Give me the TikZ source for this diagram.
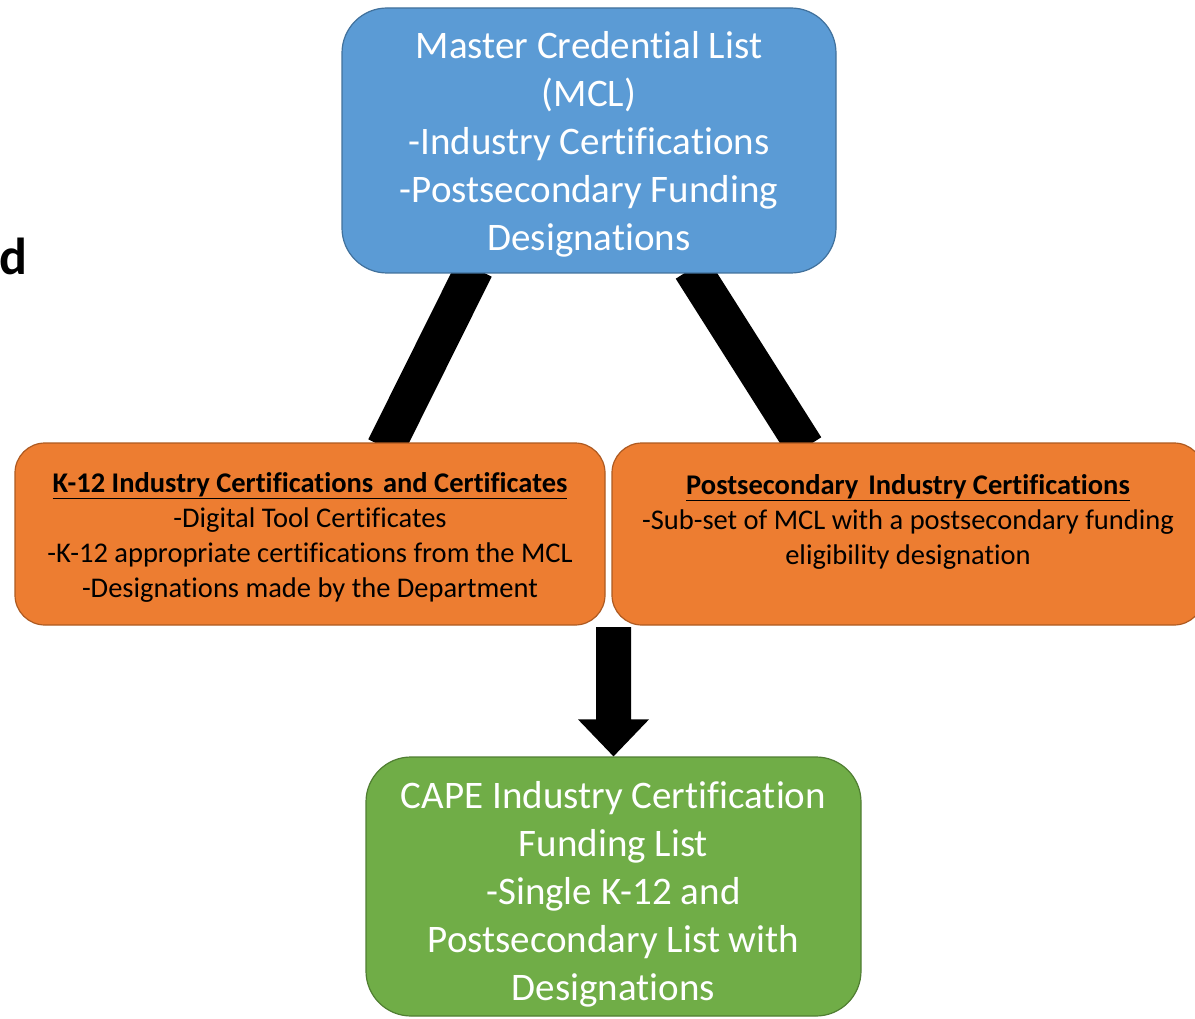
\documentclass[tikz,border=0pt]{standalone}
\usepackage{fontspec}
\setmainfont[Ligatures=NoCommon]{Carlito}
\usetikzlibrary{calc,backgrounds}
\definecolor{bluefill}{HTML}{5B9BD5}
\definecolor{blueline}{HTML}{41719C}
\definecolor{orangefill}{HTML}{ED7D31}
\definecolor{orangeline}{HTML}{AE5A21}
\definecolor{greenfill}{HTML}{70AD47}
\definecolor{greenline}{HTML}{507E32}
\begin{document}
\begin{tikzpicture}[x=1pt,y=-1pt,
  box/.style={rounded corners=#1, line width=1.2pt, inner sep=0pt, align=center},
  bigtext/.style={text=white, font=\fontsize{39}{48}\selectfont},
  smalltext/.style={text=black, font=\fontsize{28.5}{35}\selectfont},
  bar/.style={line width=38pt, black, shorten <=-6pt, shorten >=-6pt}]
\useasboundingbox (0,0) rectangle (1195,1019);

\node[anchor=base east, inner sep=0pt, font=\fontsize{52}{60}\selectfont\bfseries] (cut) at (28,275) {d};

\node[box=45pt, fill=bluefill, draw=blueline, bigtext, minimum width=494pt, minimum height=265pt] (mcl) at (589,140.5)
  {\rule{0pt}{34pt}Master Credential List\\(MCL)\\-Industry Certifications\\-Postsecondary Funding\\Designations};

\node[box=30pt, fill=orangefill, draw=orangeline, smalltext, minimum width=590pt, minimum height=182pt] (k12) at (310,534)
  {\rule{0pt}{26.5pt}\underline{\textbf{K-12 Industry Certifications\hspace{0.12em} and Certificates}}\\-Digital Tool Certificates\\-K-12 appropriate certifications from the MCL\\-Designations made by the Department};

\node[box=30pt, fill=orangefill, draw=orangeline, smalltext, minimum width=592pt, minimum height=182pt] (post) at (908,534)
  {\rule{0pt}{26.5pt}\underline{\textbf{Postsecondary\hspace{0.12em} Industry Certifications}}\\-Sub-set of MCL with a postsecondary funding\\eligibility designation\\\mbox{}};

\node[box=45pt, fill=greenfill, draw=greenline, bigtext, minimum width=495pt, minimum height=259pt] (cape) at (613.5,886.5)
  {\rule{0pt}{42pt}CAPE Industry Certification\\Funding List\\-Single K-12 and\\Postsecondary List with\\Designations};

\begin{scope}[on background layer]
  \draw[bar] ($(mcl.south)+(-117,0)$) -- ($(k12.north)+(78,0)$);
  \draw[bar] ($(mcl.south)+(106,0)$) -- ($(post.north)+(-106,0)$);
\end{scope}

\coordinate (atop) at (613.5,627);
\coordinate (atip) at (cape.north);
\fill[black] ($(atop)+(-17.5,0)$) -- ($(atop)+(17.5,0)$) -- ($(atip)+(17.5,-37)$) -- ($(atip)+(35.5,-37)$)
  -- (atip) -- ($(atip)+(-35.5,-37)$) -- ($(atip)+(-17.5,-37)$) -- cycle;
\end{tikzpicture}
\end{document}
